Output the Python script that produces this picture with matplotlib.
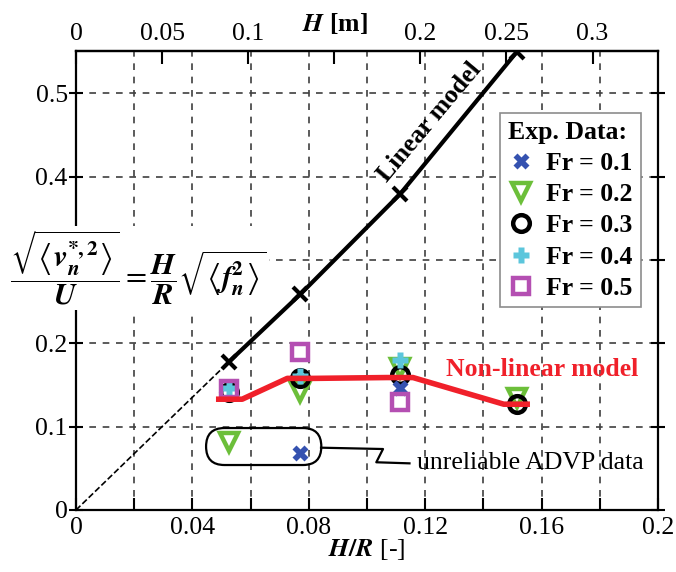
import numpy as np
from matplotlib import pyplot as plt
from matplotlib.patches import FancyBboxPatch

plt.rcParams['font.family'] = ['Liberation Serif', 'DejaVu Serif']
plt.rcParams['mathtext.fontset'] = 'stix'

# H/R positions of the model / experiment cases
hr_cases = [0.0526, 0.0771, 0.1113, 0.1515]
linear_model = [0.178, 0.259, 0.379, 0.550]
nonlinear_model = [0.133, 0.158, 0.159, 0.127]

# experimental data, per Froude number
fr01_x = [0.0771, 0.1113]
fr01_y = [0.068, 0.146]
fr02_x = [0.0526, 0.0771, 0.1113, 0.1515]
fr02_y = [0.082, 0.142, 0.170, 0.135]
fr03_x = [0.0526, 0.0771, 0.1113, 0.1515]
fr03_y = [0.142, 0.158, 0.162, 0.127]
fr04_x = [0.0526, 0.0771, 0.1113]
fr04_y = [0.146, 0.161, 0.180]
fr05_x = [0.0526, 0.0771, 0.1113]
fr05_y = [0.145, 0.190, 0.130]

R = 1.69  # H = (H/R) * R  -> top axis in metres

x_major = [0, 0.04, 0.08, 0.12, 0.16, 0.2]
x_major_labels = ['0', '0.04', '0.08', '0.12', '0.16', '0.2']
x_minor = [0.02, 0.06, 0.10, 0.14, 0.18]
y_ticks = [0, 0.1, 0.2, 0.3, 0.4, 0.5]
y_labels = ['0', '0.1', '0.2', '', '0.4', '0.5']
top_ticks = [0, 0.05, 0.1, 0.15, 0.2, 0.25, 0.3]
top_labels = ['0', '0.05', '0.1', '', '0.2', '0.25', '0.3']

FS = 18.5

fig = plt.figure(figsize=(6.76, 5.72), dpi=100)
ax = fig.add_axes([76 / 676, 62 / 572, 582 / 676, 459 / 572])
ax.set_xlim(0, 0.2)
ax.set_ylim(0, 0.551)

# linear model: dashed from origin, then solid through the cases
ax.plot([0, hr_cases[0]], [0, linear_model[0]], '--', color='k', lw=1.2, zorder=3)
ax.plot(hr_cases, linear_model, '-x', color='k', lw=3, ms=10, mew=3, zorder=5)

# experiment markers
l1, = ax.plot(fr01_x, fr01_y, 'X', color='#3552b0', ms=11, mec='none', ls='none', zorder=4)
l2, = ax.plot(fr02_x, fr02_y, 'v', color='#6cbf3a', ms=13, mfc='none', mew=3.2, ls='none', zorder=3)
l3, = ax.plot(fr03_x, fr03_y, 'o', color='k', ms=12, mfc='none', mew=3.2, ls='none', zorder=3)
l4, = ax.plot(fr04_x, fr04_y, 'P', color='#5cc6dc', ms=12, mec='none', ls='none', zorder=4)
l5, = ax.plot(fr05_x, fr05_y, 's', color='#b44fb2', ms=11, mfc='none', mew=3.2, ls='none', zorder=4)

# non-linear model: flat caps at each case joined together
half = 0.0045
nl_x, nl_y = [], []
for xv, yv in zip(hr_cases, nonlinear_model):
    nl_x += [xv - half, xv + half]
    nl_y += [yv, yv]
ax.plot(nl_x, nl_y, color='#f0202a', lw=4, solid_capstyle='butt', zorder=6)

# callout around unreliable data
pill = FancyBboxPatch((0.0447, 0.054), 0.0396, 0.0444,
                      boxstyle='round,pad=0,rounding_size=0.0063', mutation_aspect=3.52,
                      fc='none', ec='k', lw=1.6, zorder=6)
ax.add_patch(pill)
ax.plot([0.0842, 0.1055, 0.1032, 0.1146], [0.0748, 0.0732, 0.0573, 0.056],
        color='k', lw=1.6, zorder=6)
ax.text(0.1172, 0.057, 'unreliable ADVP data', fontsize=FS, ha='left', va='center', zorder=7)

ax.text(0.1215, 0.466, 'Linear model', fontsize=FS, fontweight='bold', rotation=50,
        ha='center', va='center', zorder=7)
ax.text(0.127, 0.169, 'Non-linear model', fontsize=FS, fontweight='bold',
        color='#f0202a', ha='left', va='center', zorder=7)

# axes, ticks, grid
ax.set_xticks(x_major)
ax.set_xticklabels(x_major_labels)
ax.set_xticks(x_minor, minor=True)
ax.set_yticks(y_ticks)
ax.set_yticklabels(y_labels)
ax.tick_params(axis='x', which='both', direction='in', length=9, width=1.5,
               labelsize=FS, pad=5)
ax.tick_params(axis='y', direction='inout', length=10, width=1.5, labelsize=FS,
               pad=1, right=True)
ax.grid(axis='x', which='both', ls=(0, (4, 4)), color='0.25', lw=1.2)
ax.grid(axis='y', which='major', ls=(0, (4, 4)), color='0.25', lw=1.2)
for s in ax.spines.values():
    s.set_linewidth(1.6)

top = ax.secondary_xaxis('top', functions=(lambda x: x * R, lambda h: h / R))
top.set_xticks(top_ticks)
top.set_xticklabels(top_labels)
top.tick_params(direction='in', length=9, width=1.5, labelsize=FS, pad=4)
top.spines['top'].set_linewidth(1.6)

fig.text(367 / 676, 1 - 549 / 572, r'$\boldsymbol{H/R}$ [-]', fontsize=FS,
         ha='center', va='center')
fig.text(335 / 676, 1 - 24 / 572, r'$\boldsymbol{H}$ [m]', fontsize=FS,
         fontweight='bold', ha='center', va='center')

formula = (r'$\dfrac{\sqrt{\left\langle \boldsymbol{v}_{\boldsymbol{n}}^{\mathbf{*,2}}\right\rangle}}'
           r'{\boldsymbol{U}} = \dfrac{\boldsymbol{H}}{\boldsymbol{R}}'
           r'\sqrt{\left\langle \boldsymbol{f}_{\boldsymbol{n}}^{\mathbf{2}}\right\rangle}$')
fig.text(10 / 676, 1 - 268 / 572, formula, fontsize=22, ha='left', va='center',
         bbox=dict(fc='white', ec='none', pad=2))

leg = ax.legend([l1, l2, l3, l4, l5],
                ['Fr = 0.1', 'Fr = 0.2', 'Fr = 0.3', 'Fr = 0.4', 'Fr = 0.5'],
                title='Exp. Data:', loc='upper right', bbox_to_anchor=(0.97, 0.865),
                borderaxespad=0, fancybox=False, framealpha=1, edgecolor='0.55',
                prop={'size': FS, 'weight': 'bold'},
                title_fontproperties={'size': FS, 'weight': 'bold'},
                labelspacing=0.32, handlelength=1.0, handletextpad=0.5,
                borderpad=0.3, alignment='left')
leg.get_frame().set_linewidth(1.2)
leg.set_zorder(8)

fig.savefig('out.png', dpi=100)
